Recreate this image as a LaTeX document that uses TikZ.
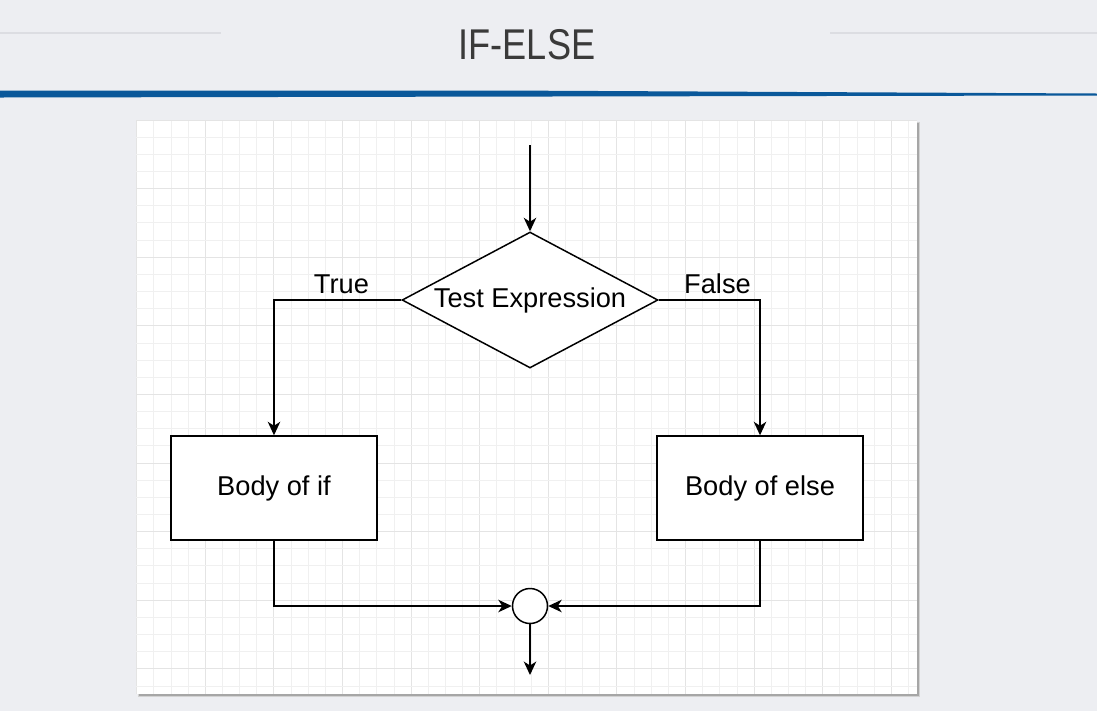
\documentclass[tikz,border=0pt]{standalone}
\usepackage{fontspec}
\setmainfont{Liberation Sans}
\usetikzlibrary{
  arrows.meta,
  shapes.geometric,
  positioning
}
\definecolor{pagebg}{RGB}{237,238,242}
\definecolor{rulegray}{RGB}{220,221,226}
\definecolor{ruleblue}{RGB}{10,88,154}
\definecolor{titlegray}{RGB}{58,58,58}
\definecolor{gridminor}{RGB}{240,240,240}
\definecolor{gridmajor}{RGB}{228,228,228}

\begin{document}
\begin{tikzpicture}[x=0.02cm,y=-0.02cm,
  txt/.style={font=\fontsize{15.5}{18}\selectfont},
  box/.style={draw,line width=0.85pt,fill=white,minimum width=4.12cm,minimum height=2.08cm,inner sep=0pt,txt},
  test/.style={diamond,draw,line width=0.85pt,fill=white,minimum width=5.12cm,minimum height=2.72cm,aspect=1.88,inner sep=0pt,txt},
  merge/.style={circle,draw,line width=0.85pt,fill=white,minimum size=0.7cm,inner sep=0pt},
  flow/.style={line width=0.85pt,-{Stealth[length=0.27cm,width=0.25cm,inset=0.08cm]}},
]
\useasboundingbox (0,0) rectangle (1097,711);
\fill[pagebg] (0,0) rectangle (1097,711);

% ---- Header ----
\draw[rulegray,line width=0.85pt] (0,33) -- (221,33);
\draw[rulegray,line width=0.85pt] (830,33) -- (1097,33);
\node[titlegray,font=\fontsize{24.5}{28}\selectfont] (title) at (527,45) {\scalebox{0.84}[1]{IF-ELSE}};
\fill[ruleblue] (0,90.5) -- (500,90.5) -- (1097,93.5) -- (1097,95.5) -- (0,97.5) -- cycle;

% ---- Canvas with grid ----
\fill[gray!35] (138,122) rectangle (920,697);
\fill[gray!70] (139,123) rectangle (919,696);
\fill[white] (136,120) rectangle (917,694);
\foreach \i in {0,...,45}{
  \pgfmathtruncatemacro{\m}{mod(\i,4)}
  \ifnum\m=0
    \draw[gridmajor,line width=0.5pt] ({136.7+17.15*\i},120) -- ({136.7+17.15*\i},694);
  \else
    \draw[gridminor,line width=0.5pt] ({136.7+17.15*\i},120) -- ({136.7+17.15*\i},694);
  \fi
}
\foreach \j in {0,...,33}{
  \pgfmathtruncatemacro{\m}{mod(\j,4)}
  \ifnum\m=0
    \draw[gridmajor,line width=0.5pt] (136,{120+17.15*\j}) -- (917,{120+17.15*\j});
  \else
    \draw[gridminor,line width=0.5pt] (136,{120+17.15*\j}) -- (917,{120+17.15*\j});
  \fi
}

% ---- Flowchart ----
\coordinate (start) at (530,145);
\node[test] (cond) at (530,300) {\raisebox{-1.5pt}{Test Expression}};
\node[box] (ifbody) at (274,488) {\raisebox{-1.5pt}{Body of if}};
\node[box] (elsebody) at (760,488) {\raisebox{-1.5pt}{Body of else}};
\node[merge] (join) at (530,606) {};
\coordinate (stop) at (530,675);

\draw[flow] (start) -- (cond);
\draw[flow] (cond.west) -| node[above,pos=0.235,txt]{True} (ifbody.north);
\draw[flow] (cond.east) -| node[above,pos=0.29,txt]{False} (elsebody.north);
\draw[flow] (ifbody.south) |- (join.west);
\draw[flow] (elsebody.south) |- (join.east);
\draw[flow] (join.south) -- (stop);
\end{tikzpicture}
\end{document}
